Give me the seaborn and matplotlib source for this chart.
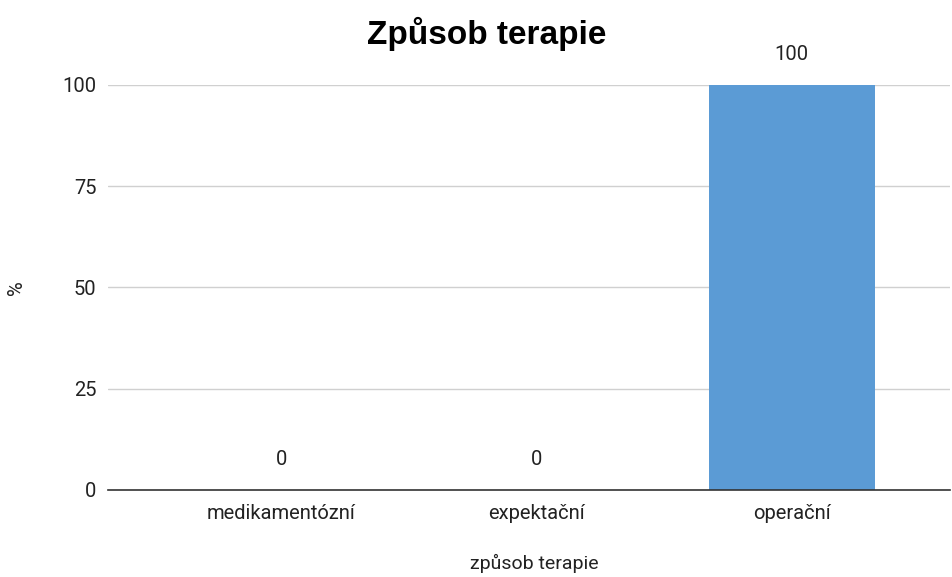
import matplotlib
matplotlib.use("Agg")
import matplotlib.pyplot as plt
import seaborn as sns
import pandas as pd

categories = ["medikamentózní", "expektační", "operační"]
values = [0, 0, 100]
y_ticks = [0, 25, 50, 75, 100]

df = pd.DataFrame({"terapie": categories, "pct": values})

sns.set_theme(style="white")
plt.rcParams["font.family"] = ["Roboto", "DejaVu Sans"]

fig = plt.figure(figsize=(9.53, 5.77), dpi=100)
ax = fig.add_axes([0.113, 0.151, 0.884, 0.702])

sns.barplot(data=df, x="terapie", y="pct", color="#5B9BD5", saturation=1,
            width=0.65, linewidth=0, ax=ax)

ax.set_ylim(0, 100)
ax.set_xlim(-0.68, 2.62)
ax.set_yticks(y_ticks)
ax.yaxis.grid(True, color="#d0d0d0", linewidth=1)
ax.set_axisbelow(True)
for s in ["top", "right", "left"]:
    ax.spines[s].set_visible(False)
ax.spines["bottom"].set_color("#333333")
ax.spines["bottom"].set_linewidth(1.2)
ax.tick_params(axis="both", length=0, labelsize=14.5, colors="#222222")
ax.tick_params(axis="y", pad=8)
ax.tick_params(axis="x", pad=10)

for i, v in enumerate(values):
    ax.annotate(str(v), (i, v), xytext=(0, 15), textcoords="offset points",
                ha="center", va="bottom", fontsize=14.5, color="#222222",
                annotation_clip=False)

ax.set_xlabel("způsob terapie", fontsize=14, color="#222222")
ax.xaxis.set_label_coords(0.507, -0.158)
ax.set_ylabel("%", fontsize=14.5, color="#222222")
ax.yaxis.set_label_coords(-0.097, 0.5)
fig.text(0.511, 0.942, "Způsob terapie", ha="center", va="center",
         fontsize=24, fontweight="bold", color="black",
         family=["Liberation Sans", "DejaVu Sans"])

fig.savefig("out.png", dpi=100)
